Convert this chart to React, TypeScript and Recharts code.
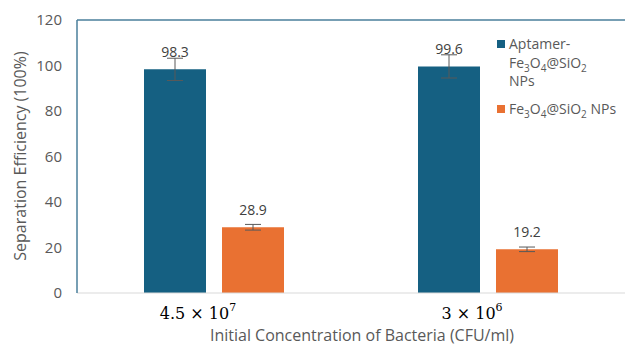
import { BarChart, Bar, XAxis, YAxis, ErrorBar, LabelList, Legend, ReferenceLine, Label } from "recharts";

const concentrations = ["4.5 × 10^7", "3 × 10^6"];
const aptamerValues = [98.3, 99.6];
const aptamerErrors = [4.9, 5.1];
const bareValues = [28.9, 19.2];
const bareErrors = [1.25, 1.0];
const seriesNames = ["Aptamer-Fe3O4@SiO2 NPs", "Fe3O4@SiO2 NPs"];
const yTicks = [0, 20, 40, 60, 80, 100, 120];

const BLUE = "#156082";
const ORANGE = "#E97132";
const FRAME = "#4a7f9b";
const GREY = "#595959";

const data = concentrations.map((c, i) => ({
  conc: c,
  aptamer: aptamerValues[i],
  aptamerErr: aptamerErrors[i],
  bare: bareValues[i],
  bareErr: bareErrors[i],
}));

// digits following a letter become subscripts (Fe3O4 -> Fe₃O₄)
function chem(name: string) {
  const parts = name.split(/(?<=[A-Za-z])(\d+)/);
  return parts.map((p, i) =>
    i % 2 === 1 ? (
      <span key={i} style={{ fontSize: 10, position: "relative", top: 4, lineHeight: 0 }}>{p}</span>
    ) : (
      <span key={i}>{p}</span>
    )
  );
}

const ConcTick = ({ x, y, payload }: any) => {
  const [base, exp] = String(payload.value).split("^");
  return (
    <text x={x} y={y} dx={-16} dy={24} textAnchor="middle" fontFamily="DejaVu Serif" fontSize={16} fill="#000">
      <tspan>{base}</tspan>
      <tspan dy={-8} fontSize={11}>{exp}</tspan>
    </text>
  );
};

const LegendBox = () => (
  <div style={{ fontSize: 14, color: GREY, lineHeight: "18.5px" }}>
    {seriesNames.map((n, i) => (
      <div key={n} style={{ display: "flex", alignItems: "flex-start", marginBottom: 9 }}>
        <span style={{ width: 8, height: 8, marginTop: 5, marginRight: 4, background: i === 0 ? BLUE : ORANGE, flex: "none" }} />
        <span style={i === 0 ? { maxWidth: 95 } : { whiteSpace: "nowrap" }}>{chem(n)}</span>
      </div>
    ))}
  </div>
);

export default function App() {
  return (
    <div style={{ position: "absolute", left: 0, top: 0, background: "#fff", fontFamily: "'Open Sans', sans-serif" }}>
      <BarChart width={625} height={346} data={data} margin={{ top: 20, right: 0, left: 0, bottom: 0 }} barSize={62} barGap={16}>
        <XAxis dataKey="conc" axisLine={{ stroke: "#d9d9d9" }} tickLine={false} tickSize={0} height={53} tick={<ConcTick />}>
          <Label
            content={() => (
              <text x={362} y={341} textAnchor="middle" fontSize={16} fill={GREY}>
                Initial Concentration of Bacteria (CFU/ml)
              </text>
            )}
          />
        </XAxis>
        <YAxis
          domain={[0, 120]}
          ticks={yTicks}
          width={77}
          axisLine={{ stroke: FRAME, strokeWidth: 1.5 }}
          tickLine={false}
          tickSize={0}
          tickMargin={15}
          tick={{ fill: GREY, fontSize: 15 }}
        >
          <Label
            content={() => (
              <text x={20} y={156} transform="rotate(-90 20 156)" textAnchor="middle" dominantBaseline="central" fontSize={16} fill={GREY}>
                Separation Efficiency (100%)
              </text>
            )}
          />
        </YAxis>
        <ReferenceLine y={120} stroke={FRAME} strokeWidth={1.5} />
        <Legend layout="vertical" align="center" verticalAlign="middle" content={<LegendBox />} wrapperStyle={{ left: 497, top: 35, width: 128 }} />
        <Bar dataKey="aptamer" name={seriesNames[0]} fill={BLUE} isAnimationActive={false}>
          <ErrorBar dataKey="aptamerErr" width={8} stroke={GREY} strokeWidth={1} />
          <LabelList dataKey="aptamer" position="top" offset={12} fill="#404040" fontSize={14} />
        </Bar>
        <Bar dataKey="bare" name={seriesNames[1]} fill={ORANGE} isAnimationActive={false}>
          <ErrorBar dataKey="bareErr" width={8} stroke={GREY} strokeWidth={1} />
          <LabelList dataKey="bare" position="top" offset={12} fill="#404040" fontSize={14} />
        </Bar>
      </BarChart>
    </div>
  );
}
